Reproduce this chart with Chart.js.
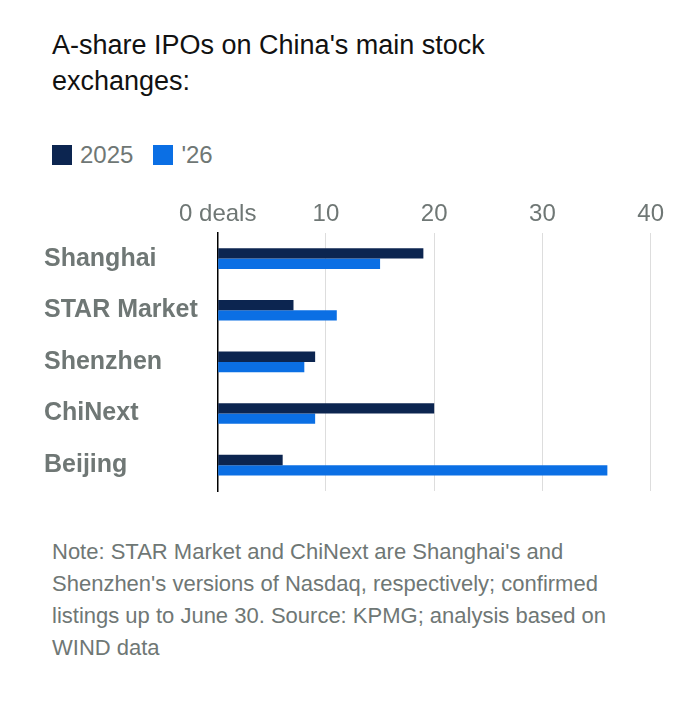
<!DOCTYPE html>
<html>
<head>
<meta charset="utf-8">
<script src="https://cdn.jsdelivr.net/npm/chart.js@4"></script>
<style>
  body { margin: 0; background: #fff; font-family: "Liberation Sans", Arial, sans-serif; }
  #title { position: absolute; left: 52px; top: 27px; width: 530px; font-size: 27px; line-height: 36px; color: #111; }
  #legend { position: absolute; left: 52px; top: 141px; font-size: 24px; color: #6f7775; }
  .sw { display: inline-block; width: 20px; height: 20px; vertical-align: -2px; margin-right: 8px; }
  #wrap { position: absolute; left: 44px; top: 196px; width: 624px; height: 316px; }
  #note { position: absolute; left: 52px; top: 536px; width: 600px; font-size: 22px; line-height: 32px; color: #6f7775; }
</style>
</head>
<body>
<div id="title">A-share IPOs on China's main stock exchanges:</div>
<div id="legend"><span class="sw" style="background:#0c2550"></span>2025 &nbsp; <span class="sw" style="background:#0b6fe4"></span>'26</div>
<div id="wrap"><canvas id="c"></canvas></div>
<div id="note">Note: STAR Market and ChiNext are Shanghai's and Shenzhen's versions of Nasdaq, respectively; confirmed listings up to June 30. Source: KPMG; analysis based on WIND data</div>
<script>
const categories = ['Shanghai', 'STAR Market', 'Shenzhen', 'ChiNext', 'Beijing'];
const values2025 = [19, 7, 9, 20, 6];
const values2026 = [15, 11, 8, 9, 36];
const tickValues = [0, 10, 20, 30, 40];

new Chart(document.getElementById('c'), {
  type: 'bar',
  data: {
    labels: categories,
    datasets: [
      { label: '2025', data: values2025, backgroundColor: '#0c2550', barPercentage: 1, categoryPercentage: 0.4 },
      { label: "'26", data: values2026, backgroundColor: '#0b6fe4', barPercentage: 1, categoryPercentage: 0.4 }
    ]
  },
  options: {
    indexAxis: 'y',
    responsive: true,
    maintainAspectRatio: false,
    animation: false,
    layout: { padding: { right: 14 } },
    plugins: { legend: { display: false }, tooltip: { enabled: false } },
    scales: {
      x: {
        position: 'top', min: 0, max: 40,
        afterBuildTicks: axis => { axis.ticks = tickValues.map(v => ({ value: v })); },
        ticks: {
          color: '#6f7775', font: { size: 24, family: '"Liberation Sans", Arial' }, padding: 4,
          callback: v => v === 0 ? '0 deals' : v
        },
        grid: { color: '#dddddd', drawTicks: false },
        border: { display: false }
      },
      y: {
        ticks: { color: '#6f7775', font: { size: 25, weight: 'bold', family: '"Liberation Sans", Arial' }, crossAlign: 'far', padding: 6 },
        grid: { display: false },
        border: { color: '#000', width: 1.5 }
      }
    }
  }
});
</script>
</body>
</html>
